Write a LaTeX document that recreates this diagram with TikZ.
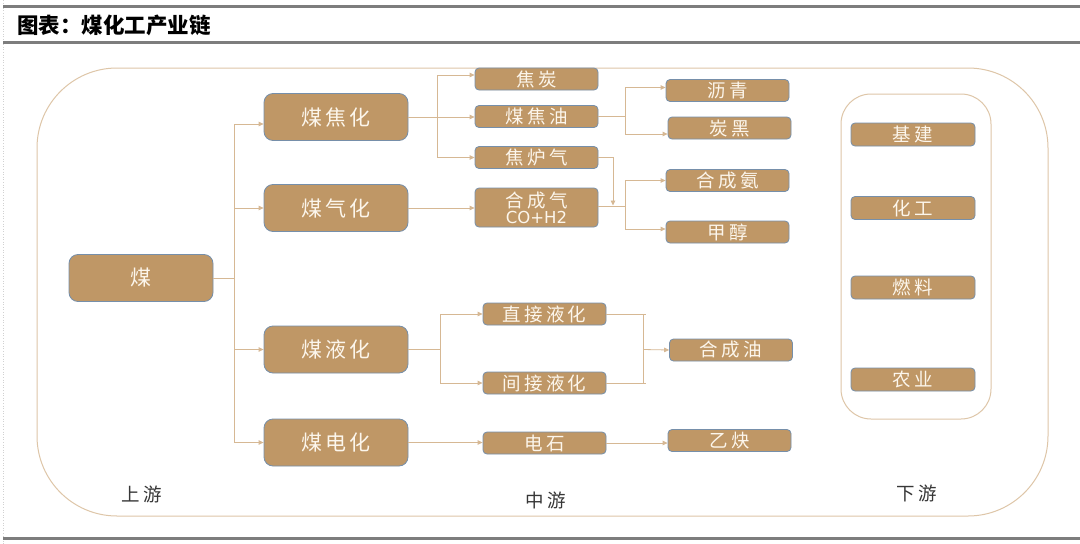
\documentclass[tikz,border=0pt]{standalone}
\usepackage{fontspec}
\usetikzlibrary{arrows.meta}
\newfontfamily\cjk{Noto Sans CJK SC}
\newfontfamily\boxfont[LetterSpace=12]{Noto Sans CJK SC}
\newfontfamily\midfont[LetterSpace=18]{Noto Sans CJK SC}
\newfontfamily\labfont[LetterSpace=20]{Noto Sans CJK SC}
\newfontfamily\latinfont{DejaVu Sans}
\definecolor{rulegray}{RGB}{125,125,125}
\definecolor{outercol}{RGB}{222,198,168}
\definecolor{linecol}{RGB}{214,184,148}
\definecolor{boxfill}{RGB}{191,151,102}
\definecolor{boxedge}{RGB}{118,143,170}
\definecolor{boxtext}{RGB}{252,246,236}
\definecolor{labtext}{RGB}{55,55,55}
\tikzset{
  box/.style={draw=boxedge, fill=boxfill, text=boxtext, line width=0.8pt, inner sep=0pt,
    rounded corners=4pt, align=center, font=\midfont\fontsize{18.5}{20}\selectfont},
  bigbox/.style={box, minimum width=144pt, minimum height=47pt, rounded corners=9pt,
    font=\boxfont\fontsize{21}{24}\selectfont},
  midbox/.style={box, minimum width=123pt, minimum height=22pt},
  downbox/.style={box, minimum width=124pt, minimum height=23pt},
  conn/.style={draw=linecol, line width=0.8pt},
  arr/.style={conn, -{Triangle[length=5pt,width=4.5pt]}},
  lab/.style={text=labtext, font=\labfont\fontsize{18.5}{20}\selectfont},
}
\begin{document}
\begin{tikzpicture}[x=1pt,y=-1pt]
\useasboundingbox (0,0) rectangle (1080,544);
\fill[white] (0,0) rectangle (1080,544);
% page rules
\draw[black!18, line width=0.6pt, dotted] (3,0) -- (3,544);
\draw[rulegray, line width=3pt] (3,6.5) -- (1080,6.5);
\draw[rulegray, line width=3pt] (3,42.5) -- (1080,42.5);
\draw[rulegray, line width=3pt] (3,538.5) -- (1080,538.5);
\node[anchor=west, inner sep=0pt, font=\cjk\bfseries\fontsize{21.5}{24}\selectfont] (title) at (17,25) {图表：煤化工产业链};
% frames
\draw[outercol, line width=1pt, rounded corners=80pt] (37,68) rectangle (1048,516);
\draw[outercol, line width=1pt, rounded corners=30pt] (841,94) rectangle (991,419);
% upstream
\node[bigbox] (mei) at (141,278) {煤};
\node[bigbox] (mjh) at (336,117) {煤焦化};
\node[bigbox] (mqh) at (336,208) {煤气化};
\node[bigbox] (myh) at (336,349.5) {煤液化};
\node[bigbox] (mdh) at (336,442.5) {煤电化};
% midstream
\node[midbox] (jt) at (536.5,79) {焦炭};
\node[midbox] (jjy) at (536.5,116.5) {煤焦油};
\node[midbox] (jlq) at (536.5,157.5) {焦炉气};
\node[midbox, minimum height=39pt] (hcq) at (536.5,207.5) {合成气\\[-4pt]{\latinfont\fontsize{16.5}{17}\selectfont CO+H2}};
\node[midbox] (lq) at (727.5,90.5) {沥青};
\node[midbox] (th) at (729.5,128) {炭黑};
\node[midbox] (hca) at (727.5,180.5) {合成氨};
\node[midbox] (jc) at (727.5,232) {甲醇};
\node[midbox] (zj) at (544.5,314) {直接液化};
\node[midbox] (jj) at (544.5,383) {间接液化};
\node[midbox] (hcy) at (731,350) {合成油};
\node[midbox] (ds) at (544.5,443) {电石};
\node[midbox] (yq) at (729.5,440.5) {乙炔};
% downstream
\node[downbox] (jjian) at (913,134.5) {基建};
\node[downbox] (hg) at (913,208) {化工};
\node[downbox] (rl) at (913,287.5) {燃料};
\node[downbox] (ny) at (913,379.5) {农业};
% labels
\node[lab] (sy) at (142,494) {上游};
\node[lab] (zy) at (546,500) {中游};
\node[lab] (xy) at (917,493) {下游};
% connectors: coal
\coordinate (b1) at (234,278);
\draw[conn] (mei.east) -- (b1);
\draw[arr] (b1) |- ([yshift=-7pt]mjh.west);
\draw[arr] (b1) |- (mqh.west);
\draw[arr] (b1) |- (myh.west);
\draw[arr] (b1) |- (mdh.west);
% coking
\coordinate (b2) at (437,117);
\draw[arr] (mjh.east) -- (mjh.east -| jjy.west);
\draw[arr] (b2) |- ([yshift=4pt]jt.west);
\draw[arr] (b2) |- (jlq.west);
% tar
\coordinate (b3) at (625,116.5);
\draw[conn] (jjy.east) -- (b3);
\draw[arr] (b3) |- ([yshift=3pt]lq.west);
\draw[arr] (b3) |- ([yshift=-6pt]th.west);
% coke oven gas and syngas
\coordinate (c1) at (613,205.5);
\draw[arr] (jlq.east) -| (c1);
\coordinate (b4) at (625,206);
\draw[conn] ([yshift=1.5pt]hcq.east) -- (b4);
\draw[arr] (b4) |- (hca.west);
\draw[arr] (b4) |- ([yshift=3pt]jc.west);
\draw[arr] (mqh.east) -- (mqh.east -| hcq.west);
% liquefaction
\coordinate (b5) at (440,349.5);
\draw[conn] (myh.east) -- (b5);
\draw[arr] (b5) |- (zj.west);
\draw[arr] (b5) |- (jj.west);
\coordinate (b6) at (643,349.5);
\draw[conn] (zj.east) -| (b6);
\draw[conn] (jj.east) -| (b6);
\draw[conn] (zj.east -| b6) -- ++(3,0);
\draw[conn] (jj.east -| b6) -- ++(3,0);
\draw[arr] (b6) -- (hcy.west);
% carbide
\draw[arr] (mdh.east) -- (mdh.east -| ds.west);
\draw[arr] (ds.east) -- (ds.east -| yq.west);
\end{tikzpicture}
\end{document}
